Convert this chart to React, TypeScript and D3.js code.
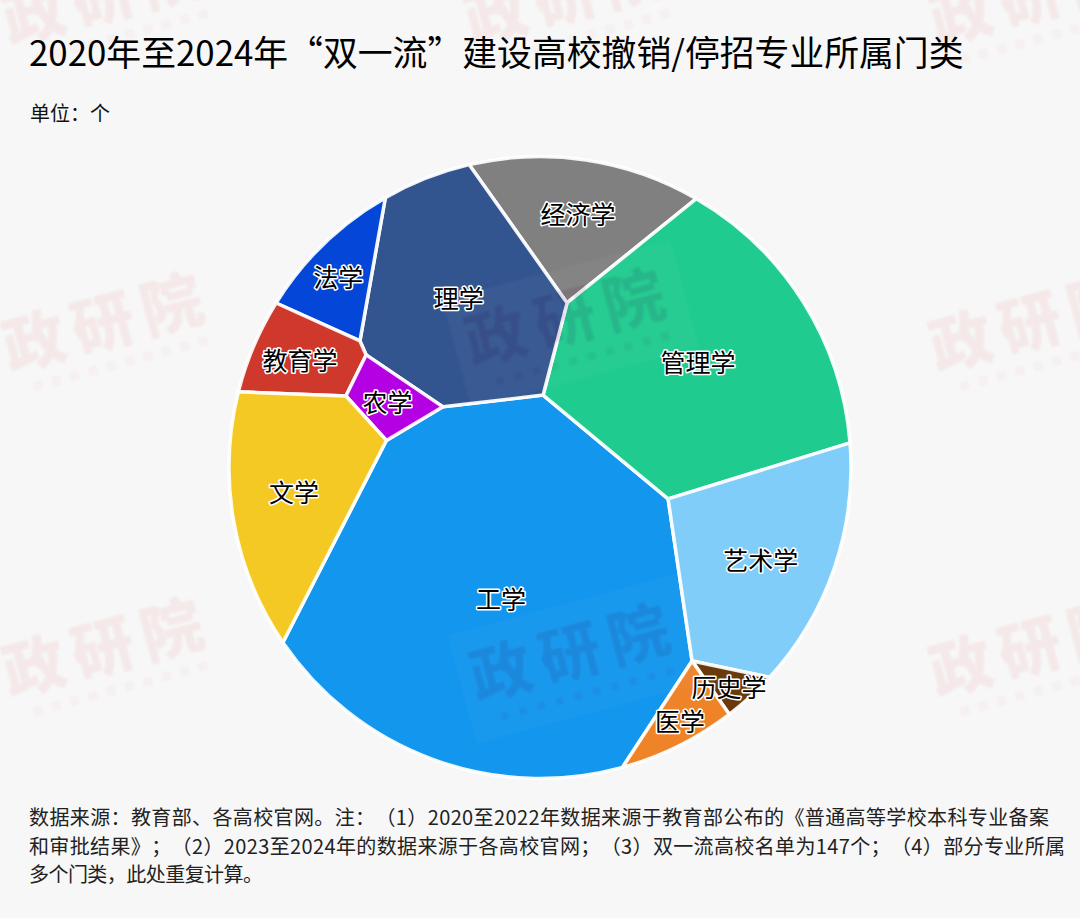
import React from "react";
import * as d3 from "d3";

const width = 1080;
const height = 918;
const FONT = '"Noto Sans CJK SC", "Noto Sans", sans-serif';

const titleText = "2020年至2024年“双一流”建设高校撤销/停招专业所属门类";
const unitText = "单位：个";
const noteLines = [
  "数据来源：教育部、各高校官网。注：（1）2020至2022年数据来源于教育部公布的《普通高等学校本科专业备案",
  "和审批结果》；（2）2023至2024年的数据来源于各高校官网；（3）双一流高校名单为147个；（4）部分专业所属",
  "多个门类，此处重复计算。",
];
const noteWidths = [1020, 1036, 234];

// Voronoi-treemap geometry, in percent of the circle radius.
const junctions: Record<string, [number, number]> = {
  R1: [-49.7, 86.7], R2: [-22.7, 97.1], R3: [50.2, 86.3], R4: [99.4, 7.9], R5: [73.3, -67.0],
  R6: [60.5, -78.9], R7: [26.4, -96.0], R8: [-82.0, -55.8], R9: [-96.8, 24.3], R10: [-84.4, 52.6],
  A: [-57.9, 40.7], B: [-55.9, 36.2], C: [-62.4, 23.0], D: [-49.4, 8.7], E: [-31.2, 19.5],
  F: [1.0, 23.3], G: [8.7, 52.9], H: [41.2, -10.1], J: [48.9, -62.2],
};

const categories = ["工学", "经济学", "管理学", "理学", "法学", "教育学", "农学", "文学", "艺术学", "历史学", "医学"];
const cellColors = ["#1296ee", "#808080", "#1fcb8f", "#33558f", "#0346d8", "#cf392c", "#b400e2", "#f5c923", "#7fcdf8", "#6a3a0c", "#ef8327"];
const cellBoundaries = [
  ["F", "H", "J", "R7", "R8", "D", "E"],
  ["R2", "R3", "G"],
  ["R3", "R4", "H", "F", "G"],
  ["R1", "R2", "G", "F", "E", "B", "A"],
  ["R10", "R1", "A"],
  ["R9", "R10", "A", "B", "C"],
  ["B", "E", "D", "C"],
  ["R8", "R9", "C", "D"],
  ["R4", "R5", "J", "H"],
  ["R5", "R6", "J"],
  ["R6", "R7", "J"],
];
const labelU = [-12.5, 12.2, 50.8, -26.1, -64.9, -77.2, -49.0, -79.1, 71.0, 60.8, 45.0];
const labelV = [-42.3, 81.5, 33.9, 54.5, 61.2, 34.5, 21.0, -7.9, -29.8, -70.6, -81.5];

const watermarkX = [108, 570, 1035, 108, 1035, 108, 1035];
const watermarkY = [-2, -2, -2, 325, 325, 650, 650];
const boxedWatermarkX = [570, 575];
const boxedWatermarkY = [320, 655];

const radius = 311;
const cx = 540;
const cy = 467.5;
const x = d3.scaleLinear().domain([-100, 100]).range([cx - radius, cx + radius]);
const y = d3.scaleLinear().domain([-100, 100]).range([cy + radius, cy - radius]);

function cellPath(keys: string[]): string {
  const p = d3.path();
  const isRim = (k: string) => k.startsWith("R");
  const angle = (k: string) => Math.atan2(y(junctions[k][1]) - cy, x(junctions[k][0]) - cx);
  const pt = (k: string): [number, number] => {
    if (!isRim(k)) return [x(junctions[k][0]), y(junctions[k][1])];
    const a = angle(k);
    return [cx + radius * Math.cos(a), cy + radius * Math.sin(a)];
  };
  keys.forEach((k, i) => {
    const [px, py] = pt(k);
    if (i === 0) p.moveTo(px, py);
    const next = keys[(i + 1) % keys.length];
    if (isRim(k) && isRim(next)) p.arc(cx, cy, radius, angle(k), angle(next), false);
    else {
      const [nx, ny] = pt(next);
      p.lineTo(nx, ny);
    }
  });
  p.closePath();
  return p.toString();
}

function Watermark({ px, py, color, opacity, boxed }: { px: number; py: number; color: string; opacity: number; boxed?: boolean }) {
  return (
    <g transform={`translate(${px},${py}) rotate(-15)`} opacity={opacity} filter="url(#soft)">
      {boxed && <rect x={-118} y={-52} width={236} height={112} fill="#ffffff" opacity={0.25} />}
      <text x={0} y={20} textAnchor="middle" fontFamily={FONT} fontWeight={900} fontSize={62} letterSpacing={9} fill={color}>
        政研院
      </text>
      {d3.range(10).map((i) => (
        <rect key={i} x={-88 + i * 19} y={36} width={9} height={9} fill={color} opacity={0.5} />
      ))}
    </g>
  );
}

const cjkSpacing = { textSpacingTrim: "space-all" } as React.CSSProperties;

export default function App() {
  return (
    <svg
      width={width}
      height={height}
      viewBox={`0 0 ${width} ${height}`}
      style={{ position: "absolute", left: 0, top: 0, display: "block", background: "#f7f7f7" }}
    >
      <defs>
        <filter id="soft"><feGaussianBlur stdDeviation="1.2" /></filter>
      </defs>
      {watermarkX.map((wx, i) => (
        <Watermark key={i} px={wx} py={watermarkY[i]} color="#e06c6c" opacity={0.1} />
      ))}
      <g>
        {categories.map((c, i) => (
          <path key={c} d={cellPath(cellBoundaries[i])} fill={cellColors[i]} stroke="#ffffff" strokeOpacity={0.92} strokeWidth={3.5} strokeLinejoin="round" />
        ))}
      </g>
      {boxedWatermarkX.map((wx, i) => (
        <Watermark key={i} px={wx} py={boxedWatermarkY[i]} color="#5a2a60" opacity={0.12} boxed />
      ))}
      <g>
        {categories.map((c, i) => (
          <text
            key={c}
            x={x(labelU[i])}
            y={y(labelV[i]) + 10}
            textAnchor="middle"
            fontFamily={FONT}
            fontSize={25}
            fill="#000000"
            stroke="#ffffff"
            strokeWidth={3}
            strokeLinejoin="round"
            paintOrder="stroke"
          >
            {c}
          </text>
        ))}
      </g>
      <text x={29} y={66} fontFamily={FONT} fontWeight={400} fontSize={34.85} fill="#000" style={cjkSpacing}>{titleText}</text>
      <text x={30} y={121} fontFamily={FONT} fontSize={20} fill="#111" style={cjkSpacing}>{unitText}</text>
      {noteLines.map((l, i) => (
        <text key={i} x={29} y={825 + i * 28.5} fontFamily={FONT} fontSize={20} fill="#222" textLength={noteWidths[i]} lengthAdjust="spacing" style={cjkSpacing}>{l}</text>
      ))}
    </svg>
  );
}
